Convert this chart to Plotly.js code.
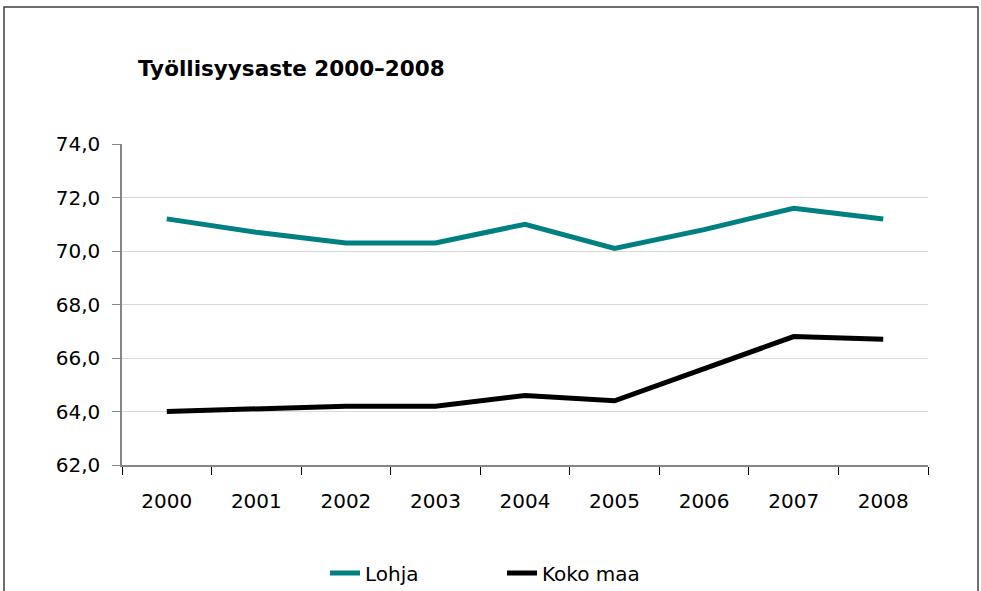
<!DOCTYPE html>
<html>
<head>
<meta charset="utf-8">
<script src="https://cdn.plot.ly/plotly-3.0.1.min.js"></script>
<style>
  html, body { margin: 0; padding: 0; background: #fff; }
  #chart { width: 981px; height: 591px; }
</style>
</head>
<body>
<div id="chart"></div>
<script>
// data
var years = ['2000', '2001', '2002', '2003', '2004', '2005', '2006', '2007', '2008'];
var lohja = [71.2, 70.7, 70.3, 70.3, 71.0, 70.1, 70.8, 71.6, 71.2];
var kokoMaa = [64.0, 64.1, 64.2, 64.2, 64.6, 64.4, 65.6, 66.8, 66.7];

var trace1 = {
  x: years,
  y: lohja,
  name: 'Lohja',
  type: 'scatter',
  mode: 'lines',
  line: {color: '#008080', width: 5}
};

var trace2 = {
  x: years,
  y: kokoMaa,
  name: 'Koko maa',
  type: 'scatter',
  mode: 'lines',
  line: {color: '#000000', width: 5}
};

var layout = {
  width: 981,
  height: 591,
  margin: {l: 122, r: 53, t: 144, b: 126},
  paper_bgcolor: '#ffffff',
  plot_bgcolor: '#ffffff',
  separators: ', ',
  font: {family: 'DejaVu Sans, Arial, sans-serif', size: 20, color: '#000'},
  title: {
    text: '<b>Työllisyysaste 2000–2008</b>',
    font: {size: 21.5, color: '#000'},
    xref: 'container', yref: 'container',
    x: 138 / 981, xanchor: 'left',
    y: 1 - 68 / 591, yanchor: 'middle'
  },
  xaxis: {
    type: 'category',
    range: [-0.5, 8.5],
    showline: true, linecolor: '#868686', linewidth: 2,
    ticks: 'outside', tickson: 'boundaries', ticklen: 8, tickcolor: '#000', tickwidth: 1,
    ticklabelstandoff: 17,
    showgrid: false, zeroline: false
  },
  yaxis: {
    range: [62, 74],
    dtick: 2,
    tickformat: '.1f',
    showline: true, linecolor: '#868686', linewidth: 1.5,
    ticks: 'outside', ticklen: 8, tickcolor: '#868686',
    ticklabelstandoff: 8,
    gridcolor: '#d9d9d9', gridwidth: 1,
    zeroline: false
  },
  showlegend: true,
  legend: {
    orientation: 'h',
    xref: 'container', x: 325 / 981, xanchor: 'left',
    yref: 'container', y: 1 - 573 / 591, yanchor: 'middle',
    font: {size: 20},
    entrywidth: 132, entrywidthmode: 'pixels'
  },
  shapes: [{
    type: 'rect',
    xref: 'paper', yref: 'paper',
    x0: (4 - 122) / 806, x1: (978 - 122) / 806,
    y0: -0.45, y1: (465 - 7) / 321,
    line: {color: '#404040', width: 1.5},
    fillcolor: 'rgba(0,0,0,0)',
    layer: 'below'
  }]
};

Plotly.newPlot('chart', [trace1, trace2], layout, {displayModeBar: false});
</script>
</body>
</html>
